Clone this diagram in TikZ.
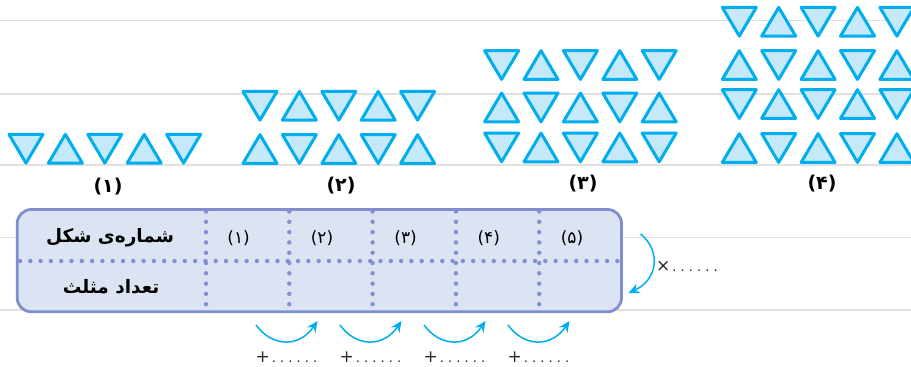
\documentclass[tikz,border=0pt]{standalone}
\usepackage{fontspec}
\setmainfont{DejaVu Sans}
\newfontfamily\arfont[Script=Arabic]{DejaVu Sans}
\TeXXeTstate=1
\usetikzlibrary{arrows.meta}
\definecolor{tricyan}{RGB}{0,174,239}
\definecolor{trifill}{RGB}{198,233,249}
\definecolor{gridgray}{RGB}{224,224,224}
\definecolor{tabborder}{RGB}{128,142,206}
\definecolor{tabfill}{RGB}{220,227,243}
\definecolor{tabdot}{RGB}{128,144,210}
\definecolor{txtgray}{RGB}{40,40,40}
\newcommand{\trirow}[3]{%
  \foreach \i in {0,...,4}{%
    \pgfmathtruncatemacro\tridir{mod(\i+#3,2)}%
    \pgfmathsetmacro\tricx{#1+39.4*\i}%
    \ifnum\tridir=0
      \draw[tri] (\tricx-17,#2+1.4) -- (\tricx+17,#2+1.4) -- (\tricx,#2+30.1) -- cycle;
    \else
      \draw[tri] (\tricx,#2+1.4) -- (\tricx+17,#2+30.1) -- (\tricx-17,#2+30.1) -- cycle;
    \fi
  }%
}
\newcommand{\sixdots}{.\hspace{4.1pt}.\hspace{4.1pt}.\hspace{4.1pt}.\hspace{4.1pt}.\hspace{4.1pt}.}
\newcommand{\bigsym}[1]{{\fontsize{17}{17}\selectfont #1}}
\begin{document}
\begin{tikzpicture}[x=1pt,y=-1pt,
  tri/.style={draw=tricyan, fill=trifill, line width=3pt, line join=round},
  gridline/.style={draw=gridgray, line width=1.4pt},
  tablebox/.style={draw=tabborder, fill=tabfill, line width=2.8pt, rounded corners=14pt, inner sep=0pt},
  dotline/.style={draw=tabdot, line width=4.4pt, line cap=round, dash pattern=on 0pt off 10.3pt},
  rowlab/.style={font=\arfont\bfseries\fontsize{18.5}{22}\selectfont, inner sep=0pt},
  collab/.style={font=\fontsize{17}{20}\selectfont, inner sep=0pt},
  figlab/.style={font=\bfseries\fontsize{19}{22}\selectfont, inner sep=0pt},
  hintlab/.style={font=\fontsize{13}{16}\selectfont, text=txtgray, inner sep=0pt},
  cyarrow/.style={draw=tricyan, line width=1.5pt, -{Stealth[length=11pt,width=10pt]}}
]
\useasboundingbox (0,0) rectangle (911,367);
\clip (0,0) rectangle (911,367);
% ruled lines
\foreach \y in {20.7,94,165,237.5,310} \draw[gridline] (0,\y) -- (911,\y);
% figure 1
\trirow{26}{133}{0}
% figure 2
\trirow{260}{90}{0}
\trirow{260}{133.3}{1}
% figure 3
\trirow{501.6}{49.3}{0}
\trirow{501.6}{91.7}{1}
\trirow{501.6}{131.7}{0}
% figure 4
\trirow{739.3}{6}{0}
\trirow{739.3}{49.3}{1}
\trirow{739.3}{88.3}{0}
\trirow{739.3}{132.3}{1}
% figure labels
\node[figlab] (f1) at (108,187) {(۱)};
\node[figlab] (f2) at (341,186) {(۲)};
\node[figlab] (f3) at (583,184) {(۳)};
\node[figlab] (f4) at (822,184) {(۴)};
% table
\node[tablebox, minimum width=604.3pt, minimum height=102.3pt] (tbl) at (319.35,260.65) {};
\foreach \x in {206,289.3,372.6,455.9,539.2} \draw[dotline] (\x,211.5) -- (\x,311);
\draw[dotline] (20,261) -- (622,261);
\node[rowlab] (r1) at (110,238) {\beginR شماره‌ی شکل\endR};
\node[rowlab] (r2) at (111,287) {\beginR تعداد مثلث\endR};
\node[collab] (c1) at (238.6,238) {(۱)};
\node[collab] (c2) at (322,238) {(۲)};
\node[collab] (c3) at (405.6,238) {(۳)};
\node[collab] (c4) at (488.8,238) {(۴)};
\node[collab] (c5) at (572,238) {(۵)};
% right arrow
\coordinate (ra) at (640.7,234);
\coordinate (rb) at (628.5,293);
\draw[cyarrow] (ra) .. controls (662,252) and (657,280) .. (rb);
\node[hintlab, anchor=west] (mul) at (656,266) {\bigsym{×}\hspace{2pt}\sixdots};
% bottom arrows
\foreach \i in {0,1,2,3}{
  \pgfmathsetmacro\dx{84*\i}
  \coordinate (bs\i) at (256+\dx,325);
  \coordinate (be\i) at (317.5+\dx,321);
  \draw[cyarrow] (bs\i) .. controls (272+\dx,347) and (299+\dx,348) .. (be\i);
  \node[hintlab] (add\i) at (286.5+\dx,356.7) {\bigsym{+}\hspace{2pt}\sixdots};
}
\end{tikzpicture}
\end{document}
